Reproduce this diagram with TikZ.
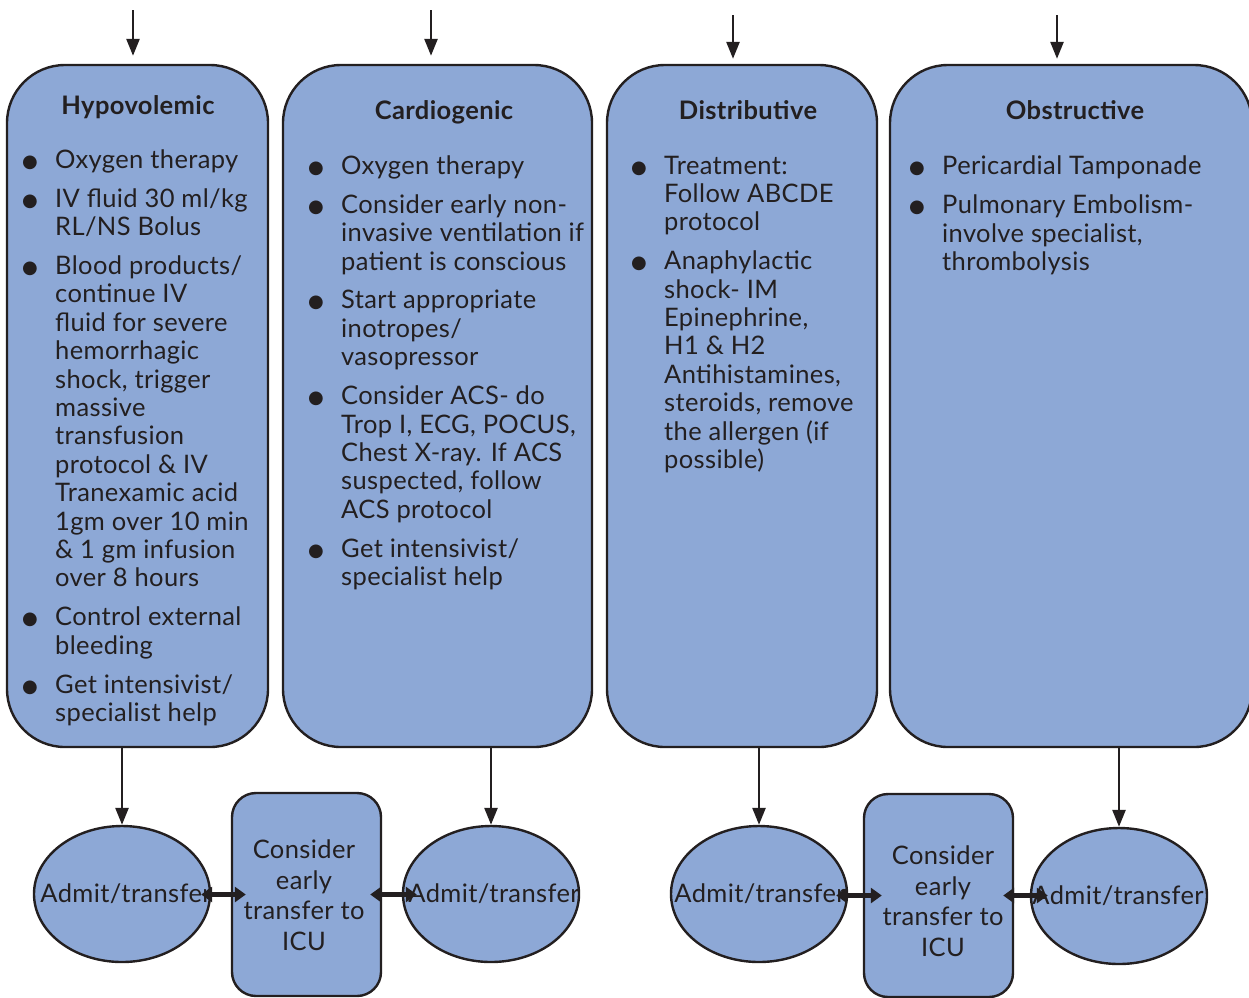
\documentclass[tikz,border=0pt]{standalone}
\usepackage{fontspec}
\setmainfont{Lato}[LetterSpace=1.5]
\newfontfamily\symfont{DejaVu Sans}
\usetikzlibrary{arrows.meta,shapes.geometric}
\definecolor{boxfill}{RGB}{141,168,214}
\definecolor{ink}{RGB}{35,31,32}
% bullet and hanging indent for the treatment lists
\newcommand{\bul}{\makebox[33pt][l]{\raisebox{1pt}{\symfont\fontsize{18}{18}\selectfont ●}}}
\newcommand{\ind}{\hspace*{33pt}}
\tikzset{
  panel/.style={draw=ink, line width=2.4pt, fill=boxfill, rounded corners=58pt, inner sep=0pt},
  icubox/.style={draw=ink, line width=2.4pt, fill=boxfill, rounded corners=24pt, inner sep=0pt,
    minimum width=149pt, minimum height=203pt},
  oval/.style={ellipse, draw=ink, line width=2.4pt, fill=boxfill, inner sep=0pt,
    minimum width=176pt, minimum height=136pt},
  title/.style={font=\fontsize{25.5}{28}\selectfont\bfseries, text=ink, inner sep=0pt},
  listtext/.style={font=\fontsize{25.5}{28.4}\selectfont, text=ink, align=left, inner sep=0pt},
  ovaltext/.style={font=\fontsize{25.5}{28.4}\selectfont, text=ink, inner sep=0pt},
  icutext/.style={font=\fontsize{25.5}{30.5}\selectfont, text=ink, align=center, inner sep=0pt},
  flow/.style={draw=ink, line width=2.6pt, -{Triangle[width=13pt,length=17pt]}},
  link/.style={draw=ink, line width=5.5pt, {Triangle[width=15pt,length=11pt]}-{Triangle[width=15pt,length=11pt]}},
}
\begin{document}
\begin{tikzpicture}[x=1pt,y=-1pt]
\clip (0,0) rectangle (1249,997);

% shock category panels
\node[panel, minimum width=261pt, minimum height=682pt] (b1) at (137.5,406) {};
\node[panel, minimum width=309pt, minimum height=682pt] (b2) at (437.5,406) {};
\node[panel, minimum width=270pt, minimum height=682pt] (b3) at (742,406) {};
\node[panel, minimum width=362pt, minimum height=682pt] (b4) at (1071,406) {};

% incoming arrows
\coordinate (t1) at (133,10);
\coordinate (t2) at (431,10);
\coordinate (t3) at (733,15);
\coordinate (t4) at (1057,15);
\draw[flow] (t1) -- ([yshift=8pt]t1 |- b1.north);
\draw[flow] (t2) -- ([yshift=8pt]t2 |- b2.north);
\draw[flow] (t3) -- ([yshift=5pt]t3 |- b3.north);
\draw[flow] (t4) -- ([yshift=5pt]t4 |- b4.north);

% titles
\node[title, anchor=base] (h1) at (138,114) {Hypovolemic};
\node[title, anchor=base] (h2) at (444,119) {Cardiogenic};
\node[title, anchor=base] (h3) at (748,119) {Distributive};
\node[title, anchor=base] (h4) at (1075,119) {Obstructive};

% treatment lists (anchored on the baseline of their last line)
\node[listtext, anchor=base west] (l1) at (22,721.5) {%
\bul Oxygen therapy\\[10.5pt]
\bul IV fluid 30 ml/kg\\ \ind RL/NS Bolus\\[10.5pt]
\bul Blood products/\\ \ind continue IV\\ \ind fluid for severe\\ \ind hemorrhagic\\
\ind shock, trigger\\ \ind massive\\ \ind transfusion\\ \ind protocol \& IV\\
\ind Tranexamic acid\\ \ind 1gm over 10 min\\ \ind \& 1 gm infusion\\ \ind over 8 hours\\[10.5pt]
\bul Control external\\ \ind bleeding\\[10.5pt]
\bul Get intensivist/\\ \ind specialist help};

\node[listtext, anchor=base west] (l2) at (308,585.5) {%
\bul Oxygen therapy\\[10.5pt]
\bul Consider early non-\\ \ind invasive ventilation if\\ \ind patient is conscious\\[10.5pt]
\bul Start appropriate\\ \ind inotropes/\\ \ind vasopressor\\[10.5pt]
\bul Consider ACS- do\\ \ind Trop I, ECG, POCUS,\\ \ind Chest X-ray. If ACS\\ \ind suspected, follow\\ \ind ACS protocol\\[10.5pt]
\bul Get intensivist/\\ \ind specialist help};

\node[listtext, anchor=base west] (l3) at (631,468.5) {%
\bul Treatment:\\ \ind Follow ABCDE\\ \ind protocol\\[10.5pt]
\bul Anaphylactic\\ \ind shock- IM\\ \ind Epinephrine,\\ \ind H1 \& H2\\ \ind Antihistamines,\\
\ind steroids, remove\\ \ind the allergen (if\\ \ind possible)};

\node[listtext, anchor=base west] (l4) at (909,270.5) {%
\bul Pericardial Tamponade\\[10.5pt]
\bul Pulmonary Embolism-\\ \ind involve specialist,\\ \ind thrombolysis};

% admission ovals and ICU boxes
\node[oval] (e1) at (122,894) {};
\node[oval] (e2) at (491,894) {};
\node[oval] (e3) at (759,894) {};
\node[oval] (e4) at (1119,896) {};
\node[icubox] (c1) at (306.5,894.5) {};
\node[icubox] (c2) at (938.5,895.5) {};

\node[ovaltext, anchor=base] (e1t) at (126,902) {Admit/transfer};
\node[ovaltext, anchor=base] (e2t) at (494,902) {Admit/transfer};
\node[ovaltext, anchor=base] (e3t) at (760,902) {Admit/transfer};
\node[ovaltext, anchor=base] (e4t) at (1118,904) {Admit/transfer};
\node[icutext] (c1t) at (304,895) {Consider\\ early\\ transfer to\\ ICU};
\node[icutext] (c2t) at (943,901) {Consider\\ early\\ transfer to\\ ICU};

% panel to oval arrows
\draw[flow] (e1.north |- b1.south) -- (e1.north);
\draw[flow] (e2.north |- b2.south) -- (e2.north);
\draw[flow] (e3.north |- b3.south) -- (e3.north);
\draw[flow] (e4.north |- b4.south) -- (e4.north);

% two-way links between ovals and ICU boxes
\draw[link] ([xshift=-10pt]e1.east |- c1.west) -- ([xshift=15pt]c1.west);
\draw[link] ([xshift=-12pt]c1.east) -- ([xshift=15pt]e2.west |- c1.east);
\draw[link] ([xshift=-12pt]e3.east |- c2.west) -- ([xshift=19pt]c2.west);
\draw[link] ([xshift=-11pt]c2.east) -- ([xshift=18pt]e4.west |- c2.east);
\end{tikzpicture}
\end{document}
